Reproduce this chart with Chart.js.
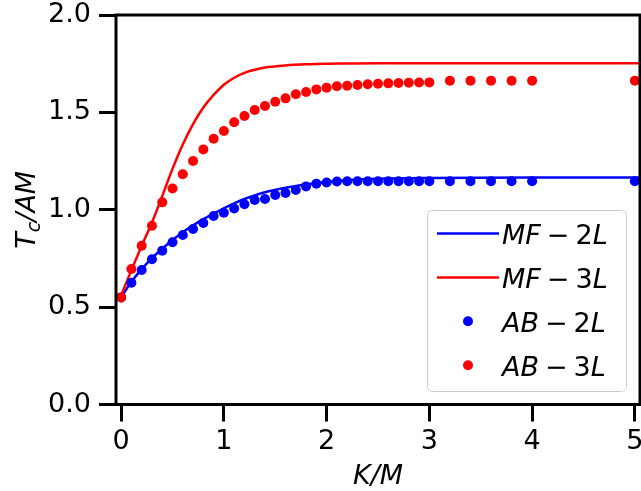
<!DOCTYPE html>
<html lang="en">
<head>
<meta charset="UTF-8">
<title>Tc/AM vs K/M</title>
<style>
  html, body { margin: 0; padding: 0; background: #fff; }
  #tcChart { display: block; }
</style>
</head>
<body>
<canvas id="tcChart" width="641" height="491"></canvas>

<script src="https://cdn.jsdelivr.net/npm/chart.js"></script>
<script>
// K/M values of the AB points
const kDots = [0, 0.1, 0.2, 0.3, 0.4, 0.5, 0.6, 0.7, 0.8, 0.9, 1.0,
               1.1, 1.2, 1.3, 1.4, 1.5, 1.6, 1.7, 1.8, 1.9, 2.0,
               2.1, 2.2, 2.3, 2.4, 2.5, 2.6, 2.7, 2.8, 2.9, 3.0,
               3.2, 3.4, 3.6, 3.8, 4.0, 5.0];
const ab2L = [0.550, 0.625, 0.691, 0.746, 0.790, 0.833, 0.870, 0.901, 0.932, 0.968, 0.985,
              1.006, 1.028, 1.050, 1.055, 1.076, 1.086, 1.101, 1.120, 1.134, 1.140,
              1.145, 1.146, 1.146, 1.146, 1.146, 1.146, 1.146, 1.146, 1.146, 1.146,
              1.146, 1.146, 1.146, 1.146, 1.146, 1.146];
const ab3L = [0.550, 0.696, 0.815, 0.918, 1.038, 1.109, 1.182, 1.250, 1.310, 1.365, 1.404,
              1.449, 1.481, 1.512, 1.533, 1.555, 1.572, 1.593, 1.605, 1.618, 1.627,
              1.634, 1.637, 1.641, 1.644, 1.647, 1.649, 1.651, 1.652, 1.653, 1.654,
              1.662, 1.663, 1.663, 1.663, 1.663, 1.663];

// MF curves
const kLine = [0, 0.1, 0.2, 0.3, 0.4, 0.5, 0.6, 0.7, 0.8, 0.9, 1.0, 1.1, 1.2, 1.4, 1.6, 1.8, 2.0, 2.2, 2.5, 3.0, 4.0, 5.05];
const mf2L = [0.550, 0.630, 0.695, 0.752, 0.800, 0.845, 0.885, 0.920, 0.952, 0.980, 1.007, 1.033, 1.055, 1.090, 1.113, 1.130, 1.143, 1.152, 1.159, 1.163, 1.165, 1.165];
const mf3L = [0.560, 0.690, 0.815, 0.935, 1.070, 1.210, 1.335, 1.440, 1.525, 1.590, 1.642, 1.678, 1.703, 1.730, 1.741, 1.747, 1.750, 1.751, 1.752, 1.752, 1.752, 1.752];

const xTicks = [0, 1, 2, 3, 4, 5];
const yTicks = [0.0, 0.5, 1.0, 1.5, 2.0];

const FONT = '"DejaVu Sans", sans-serif';

function pts(xs, ys) {
    return xs.map((x, i) => ({ x: x, y: ys[i] }));
}

// frame, y title and legend drawn on the canvas
const decorations = {
    id: 'decorations',
    afterDatasetsDraw(chart) {
        const { ctx, chartArea: a } = chart;
        ctx.save();
        ctx.strokeStyle = '#000';
        ctx.lineWidth = 3;
        ctx.strokeRect(a.left, a.top, a.right - a.left, a.bottom - a.top);
        ctx.restore();
    },
    afterDraw(chart) {
        const { ctx, chartArea: a } = chart;

        // y axis title T_c/AM
        const big = 'italic 27px ' + FONT;
        const small = 'italic 19px ' + FONT;
        const parts = [['T', big, 0], ['c', small, 5], ['/AM', big, 0]];
        ctx.save();
        ctx.fillStyle = '#000';
        ctx.textBaseline = 'alphabetic';
        let total = 0;
        parts.forEach(p => { ctx.font = p[1]; total += ctx.measureText(p[0]).width; });
        ctx.translate(35, (a.top + a.bottom) / 2);
        ctx.rotate(-Math.PI / 2);
        let u = -total / 2;
        parts.forEach(p => {
            ctx.font = p[1];
            ctx.fillText(p[0], u, p[2]);
            u += ctx.measureText(p[0]).width;
        });
        ctx.restore();

        // legend
        const bx = 427.5, by = 210.5, bw = 199, bh = 181, r = 5;
        ctx.save();
        ctx.beginPath();
        ctx.moveTo(bx + r, by);
        ctx.arcTo(bx + bw, by, bx + bw, by + bh, r);
        ctx.arcTo(bx + bw, by + bh, bx, by + bh, r);
        ctx.arcTo(bx, by + bh, bx, by, r);
        ctx.arcTo(bx, by, bx + bw, by, r);
        ctx.closePath();
        ctx.fillStyle = 'rgba(255,255,255,0.8)';
        ctx.fill();
        ctx.strokeStyle = '#cccccc';
        ctx.lineWidth = 1;
        ctx.stroke();

        const rowH = 43.9;
        chart.data.datasets.forEach((ds, i) => {
            const cy = 233.5 + i * rowH;
            if (ds.showLine) {
                ctx.strokeStyle = ds.borderColor;
                ctx.lineWidth = 2.5;
                ctx.beginPath();
                ctx.moveTo(437, cy);
                ctx.lineTo(499, cy);
                ctx.stroke();
            } else {
                ctx.fillStyle = ds.backgroundColor;
                ctx.beginPath();
                ctx.arc(468, cy, 5, 0, Math.PI * 2);
                ctx.fill();
            }
            // math-style label: letters italic, the rest upright
            ctx.fillStyle = '#000';
            ctx.textBaseline = 'alphabetic';
            let x = 502;
            for (const ch of ds.label) {
                if (ch === ' ') continue;
                const italic = /[A-Za-z]/.test(ch);
                ctx.font = (italic ? 'italic ' : '') + '27px ' + FONT;
                if (ch === '\u2212') x += 6;
                ctx.fillText(ch, x, cy + 10.5);
                x += ctx.measureText(ch).width;
                if (ch === '\u2212') x += 6;
            }
        });
        ctx.restore();
    }
};

const tickFont = { family: FONT, size: 27 };

new Chart(document.getElementById('tcChart'), {
    type: 'scatter',
    data: {
        datasets: [
            { label: 'MF \u2212 2L', data: pts(kLine, mf2L), showLine: true, borderColor: '#0000ff',
              backgroundColor: '#0000ff', borderWidth: 2.5, pointRadius: 0, cubicInterpolationMode: 'monotone', order: 4 },
            { label: 'MF \u2212 3L', data: pts(kLine, mf3L), showLine: true, borderColor: '#ff0000',
              backgroundColor: '#ff0000', borderWidth: 2.5, pointRadius: 0, cubicInterpolationMode: 'monotone', order: 3 },
            { label: 'AB \u2212 2L', data: pts(kDots, ab2L), showLine: false, backgroundColor: '#0000ff',
              borderWidth: 0, pointRadius: 5, order: 2 },
            { label: 'AB \u2212 3L', data: pts(kDots, ab3L), showLine: false, backgroundColor: '#ff0000',
              borderWidth: 0, pointRadius: 5, order: 1 }
        ]
    },
    options: {
        responsive: false,
        animation: false,
        layout: { autoPadding: false, padding: { top: 15, right: 1, left: 0, bottom: 0 } },
        plugins: {
            legend: { display: false },
            tooltip: { enabled: false }
        },
        scales: {
            x: {
                type: 'linear',
                min: -0.05,
                max: 5.05,
                afterBuildTicks: s => { s.ticks = xTicks.map(v => ({ value: v })); },
                afterFit: s => { s.height = 86.5; s.paddingLeft = 0; s.paddingRight = 0; },
                ticks: { font: tickFont, color: '#000', padding: 4, callback: v => String(v), maxRotation: 0 },
                grid: { drawOnChartArea: false, drawTicks: true, tickLength: 17, tickWidth: 3, tickColor: '#000' },
                border: { display: false },
                title: { display: true, text: 'K/M', color: '#000', padding: { top: 0, bottom: -2 },
                         font: { family: FONT, size: 27, style: 'italic' } }
            },
            y: {
                type: 'linear',
                min: 0,
                max: 2,
                afterBuildTicks: s => { s.ticks = yTicks.map(v => ({ value: v })); },
                afterFit: s => { s.width = 116; s.paddingTop = 0; s.paddingBottom = 0; },
                ticks: { font: tickFont, color: '#000', padding: 8, callback: v => v.toFixed(1) },
                grid: { drawOnChartArea: false, drawTicks: true, tickLength: 17, tickWidth: 3, tickColor: '#000' },
                border: { display: false }
            }
        }
    },
    plugins: [decorations]
});
</script>
</body>
</html>
